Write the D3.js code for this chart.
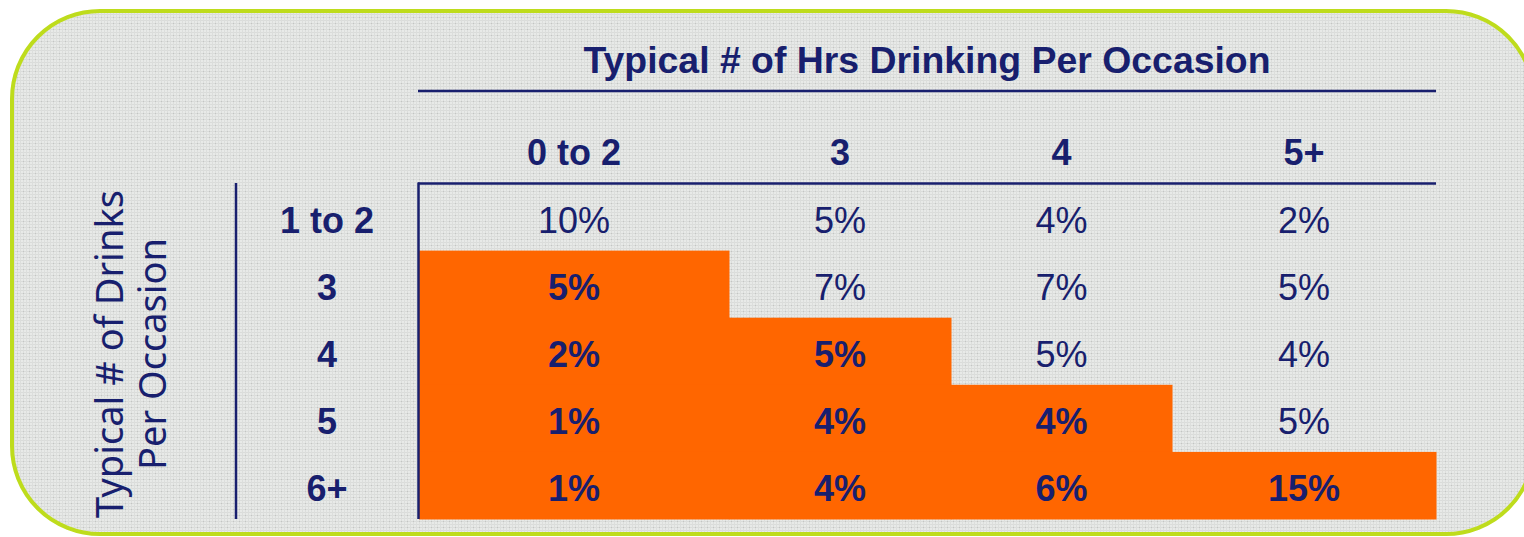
<!DOCTYPE html>
<html>
<head>
<meta charset="utf-8">
<script src="https://cdn.jsdelivr.net/npm/d3@7"></script>
<style>
  body { margin: 0; background: #fff; }
  svg { display: block; }
</style>
</head>
<body>
<svg id="chart"></svg>
<script>
// data
const title = "Typical # of Hrs Drinking Per Occasion";
const yTitle = ["Typical # of Drinks", "Per Occasion"];
const colLabels = ["0 to 2", "3", "4", "5+"];
const rowLabels = ["1 to 2", "3", "4", "5", "6+"];
const values = [
  [10, 5, 4, 2],
  [5, 7, 7, 5],
  [2, 5, 5, 4],
  [1, 4, 4, 5],
  [1, 4, 6, 15]
];

const W = 1524, H = 537;
const navy = "#181f6e", orange = "#ff6600", lime = "#bedc1c";
const colEdges = [419, 729, 951, 1172, 1436];

const svg = d3.select("#chart").attr("width", W).attr("height", H);

// texture
const defs = svg.append("defs");
const pat = defs.append("pattern")
  .attr("id", "tex").attr("patternUnits", "userSpaceOnUse")
  .attr("width", 6).attr("height", 6);
pat.append("rect").attr("width", 6).attr("height", 6).attr("fill", "#e8eae8");
pat.append("rect").attr("x", 0).attr("y", 2).attr("width", 6).attr("height", 1).attr("fill", "#dadcda");
pat.append("rect").attr("x", 0).attr("y", 5).attr("width", 6).attr("height", 1).attr("fill", "#dadcda");
pat.append("rect").attr("x", 2).attr("y", 0).attr("width", 1).attr("height", 6).attr("fill", "#dcdedc");
pat.append("rect").attr("x", 5).attr("y", 0).attr("width", 1).attr("height", 6).attr("fill", "#dcdedc");
pat.append("rect").attr("x", 5).attr("y", 5).attr("width", 1).attr("height", 1).attr("fill", "#c3c5c3");

svg.append("rect")
  .attr("x", 12).attr("y", 11).attr("width", 1522).attr("height", 523)
  .attr("rx", 88).attr("ry", 88)
  .attr("fill", "url(#tex)")
  .attr("stroke", lime).attr("stroke-width", 4);

// scales
const y = d3.scaleBand().domain(d3.range(rowLabels.length)).range([183.5, 519]);
const xL = d3.scaleOrdinal().domain(d3.range(colLabels.length)).range(colEdges.slice(0, -1));
const xR = d3.scaleOrdinal().domain(d3.range(colLabels.length)).range(colEdges.slice(1));
const xC = i => (xL(i) + xR(i)) / 2;

const cells = [];
values.forEach((row, r) => row.forEach((v, c) => cells.push({ r, c, v, hi: r > c })));

// orange cells
svg.append("g").selectAll("rect")
  .data(cells.filter(d => d.hi))
  .join("rect")
  .attr("x", d => xL(d.c))
  .attr("y", d => y(d.r))
  .attr("width", d => xR(d.c) - xL(d.c) + 0.5)
  .attr("height", y.bandwidth() + 0.5)
  .attr("fill", orange);

// lines
const lines = svg.append("g").attr("stroke", navy).attr("stroke-width", 2.5);
lines.append("line").attr("x1", 418).attr("x2", 1436).attr("y1", 91).attr("y2", 91);
lines.append("line").attr("x1", 418).attr("x2", 1436).attr("y1", 183.5).attr("y2", 183.5);
lines.append("line").attr("x1", 418.5).attr("x2", 418.5).attr("y1", 182.5).attr("y2", 519);
lines.append("line").attr("x1", 236).attr("x2", 236).attr("y1", 183).attr("y2", 519);

const txt = svg.append("g")
  .attr("font-family", "'Liberation Sans', Arial, sans-serif")
  .attr("font-size", 36)
  .attr("fill", navy)
  .attr("text-anchor", "middle");

txt.append("text")
  .attr("x", 927).attr("y", 73)
  .attr("font-size", 37.4)
  .attr("font-weight", "bold")
  .text(title);

txt.selectAll(".col")
  .data(colLabels)
  .join("text")
  .attr("class", "col")
  .attr("x", (d, i) => xC(i))
  .attr("y", 165)
  .attr("font-weight", "bold")
  .text(d => d);

txt.selectAll(".row")
  .data(rowLabels)
  .join("text")
  .attr("class", "row")
  .attr("x", 327)
  .attr("y", (d, i) => y(i) + y.bandwidth() / 2 + 16)
  .attr("font-weight", "bold")
  .text(d => d);

txt.selectAll(".val")
  .data(cells)
  .join("text")
  .attr("class", "val")
  .attr("x", d => xC(d.c))
  .attr("y", d => y(d.r) + y.bandwidth() / 2 + 16)
  .attr("font-weight", d => d.hi ? "bold" : "normal")
  .text(d => d.v + "%");

// rotated row title
svg.append("g")
  .attr("font-family", "'Noto Sans', sans-serif")
  .attr("font-size", 38)
  .attr("fill", navy)
  .attr("text-anchor", "middle")
  .selectAll("text")
  .data(yTitle)
  .join("text")
  .attr("transform", (d, i) => `translate(${i === 0 ? 123 : 166},354) rotate(-90)`)
  .text(d => d);
</script>
</body>
</html>
